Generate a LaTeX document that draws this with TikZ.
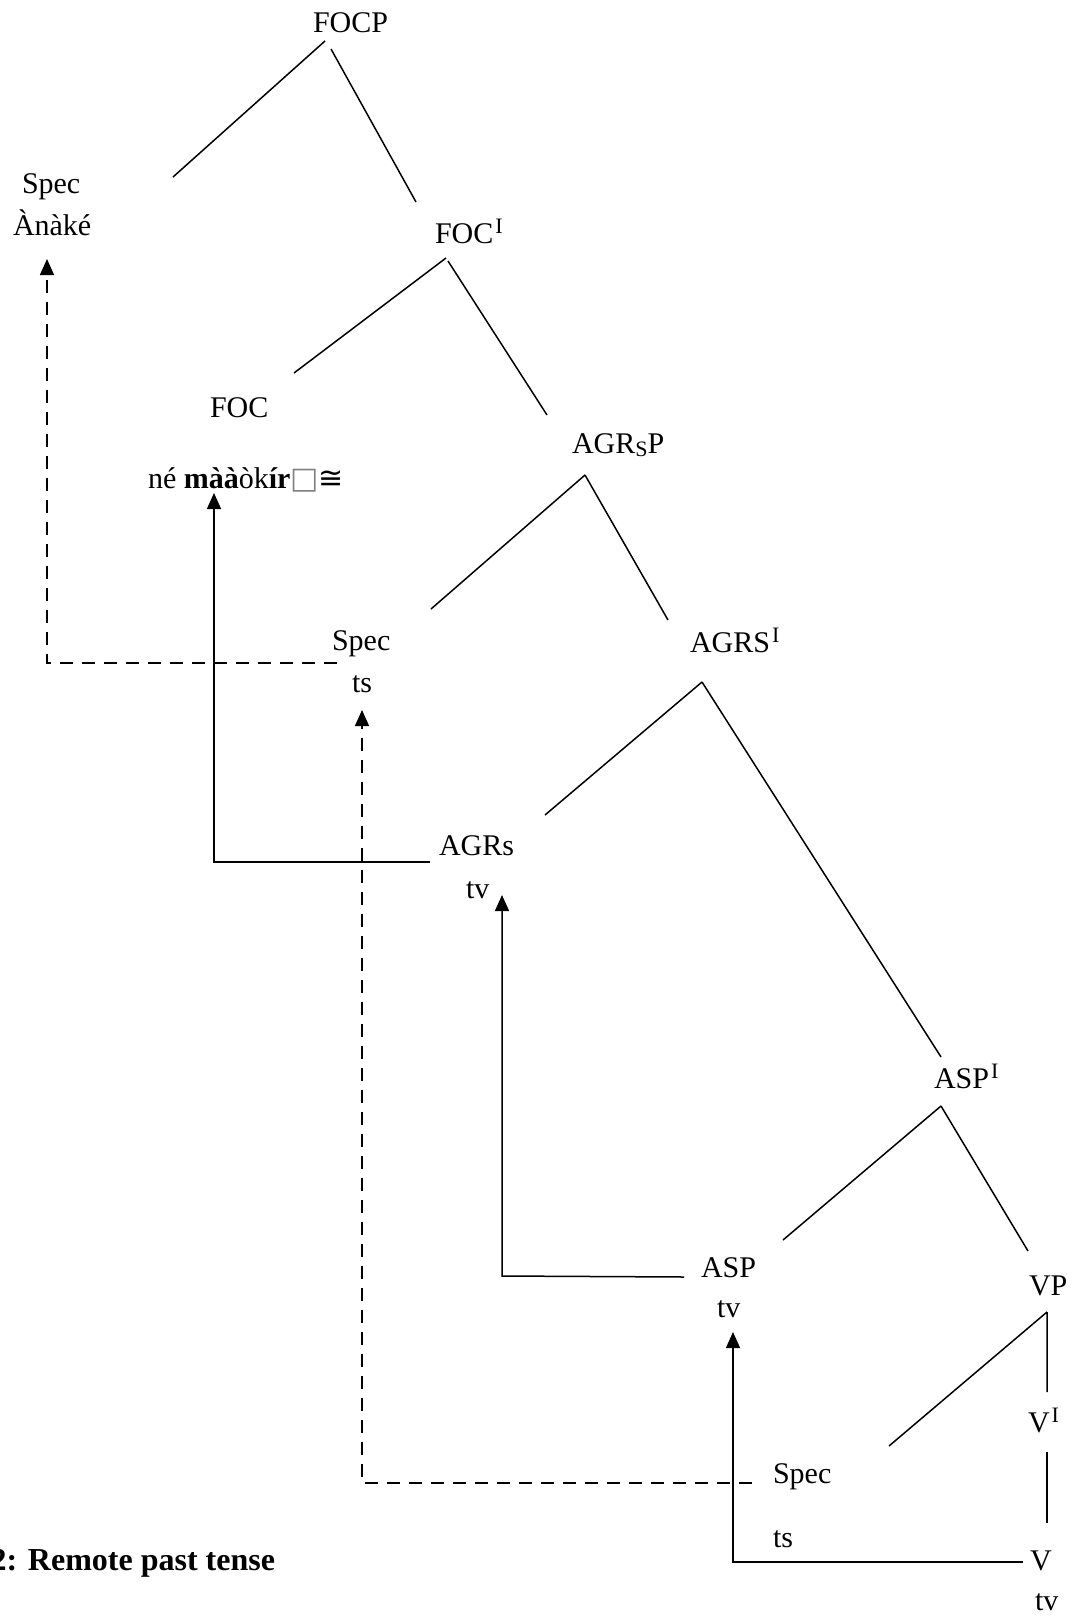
\documentclass[tikz,border=0pt]{standalone}
\usepackage{fontspec}
\setmainfont{Liberation Serif}
\newfontfamily\symfont{DejaVu Sans}
\usetikzlibrary{arrows.meta}
\newcommand\barI{\hspace{2pt}\raisebox{10pt}{\fontsize{22}{24}\selectfont I}}
\newcommand\subS{\raisebox{-3pt}{\fontsize{22}{24}\selectfont S}}
\begin{document}
\begin{tikzpicture}[x=1pt,y=-1pt,
  lbl/.style={inner sep=0pt,outer sep=0pt,anchor=base west,font=\fontsize{30}{36}\selectfont},
  branch/.style={line width=1.5pt},
  mvsolid/.style={line width=1.5pt,-{Triangle[length=16pt,width=14pt]}},
  mvdashed/.style={line width=1.5pt,dash pattern=on 13pt off 9pt,-{Triangle[length=16pt,width=14pt]}}]
\useasboundingbox (0,0) rectangle (1079,1618);
% labels
\node[lbl] (focp) at (313,32) {FOCP};
\node[lbl] (spec1) at (22,193) {Spec};
\node[lbl] (anake) at (13,235) {Ànàké};
\node[lbl] (focbar) at (435,243) {FOC\barI};
\node[lbl] (foc) at (210,417) {FOC};
\node[lbl] (focw) at (148,488) {né \textbf{màà}òk\textbf{ír}{\symfont\textcolor{gray}{□}≅}};
\node[lbl] (agrsp) at (572,453) {AGR\subS P};
\node[lbl] (spec2) at (332,650) {Spec};
\node[lbl] (ts2) at (352,692) {ts};
\node[lbl] (agrsbar) at (690,652) {AGRS\barI};
\node[lbl] (agrs) at (439,855) {AGRs};
\node[lbl] (tv1) at (466,898) {tv};
\node[lbl] (aspbar) at (934,1088) {ASP\barI};
\node[lbl] (asp) at (701,1277) {ASP};
\node[lbl] (tv2) at (717,1317) {tv};
\node[lbl] (vp) at (1029,1295) {VP};
\node[lbl] (vbar) at (1028,1432) {V\barI};
\node[lbl] (spec3) at (773,1483) {Spec};
\node[lbl] (ts3) at (773,1547) {ts};
\node[lbl] (v) at (1030,1570) {V};
\node[lbl] (tv3) at (1035,1610) {tv};
\node[lbl,anchor=base east,font=\fontsize{32}{38}\selectfont\bfseries] (cap) at (275,1570) {2: Remote past tense};
% branch end points
\coordinate (b1a) at (325,41);   \coordinate (b1l) at (173,177);
\coordinate (b1b) at (331,49);   \coordinate (b1r) at (416,202);
\coordinate (b2a) at (446,258);  \coordinate (b2l) at (294,373);
\coordinate (b2b) at (448,261);  \coordinate (b2r) at (547,415);
\coordinate (b3a) at (585,475);  \coordinate (b3l) at (431,609);
\coordinate (b3r) at (668,620);
\coordinate (b4a) at (702,682);  \coordinate (b4l) at (545,815);
\coordinate (b4r) at (941,1057);
\coordinate (b5a) at (941,1106); \coordinate (b5l) at (783,1240);
\coordinate (b5r) at (1028,1251);
\coordinate (b6a) at (1047,1312); \coordinate (b6l) at (889,1446);
\coordinate (b6d) at (1047,1392);
\coordinate (b7a) at (1047,1452); \coordinate (b7d) at (1047,1523);
\draw[branch] (b1a) -- (b1l) (b1b) -- (b1r);
\draw[branch] (b2a) -- (b2l) (b2b) -- (b2r);
\draw[branch] (b3a) -- (b3l) (b3a) -- (b3r);
\draw[branch] (b4a) -- (b4l) (b4a) -- (b4r);
\draw[branch] (b5a) -- (b5l) (b5a) -- (b5r);
\draw[branch] (b6a) -- (b6l) (b6a) -- (b6d);
\draw[branch] (b7a) -- (b7d);
% movement arrows
\coordinate (m1s) at (337,663); \coordinate (m1c) at (47,663); \coordinate (m1e) at (47,259);
\coordinate (m2s) at (430,862); \coordinate (m2c) at (214,862); \coordinate (m2e) at (214,493);
\coordinate (m3s) at (752,1483); \coordinate (m3c) at (362,1483); \coordinate (m3e) at (362,710);
\coordinate (m4s) at (684,1277); \coordinate (m4c) at (502,1276); \coordinate (m4e) at (502,895);
\coordinate (m5s) at (1023,1562); \coordinate (m5c) at (733,1562); \coordinate (m5e) at (733,1332);
\draw[mvdashed] (m1s) -- (m1c) -- (m1e);
\draw[mvsolid] (m2s) -- (m2c) -- (m2e);
\draw[mvdashed] (m3s) -- (m3c) -- (m3e);
\draw[mvsolid] (m4s) -- (m4c) -- (m4e);
\draw[mvsolid] (m5s) -- (m5c) -- (m5e);
\end{tikzpicture}
\end{document}
